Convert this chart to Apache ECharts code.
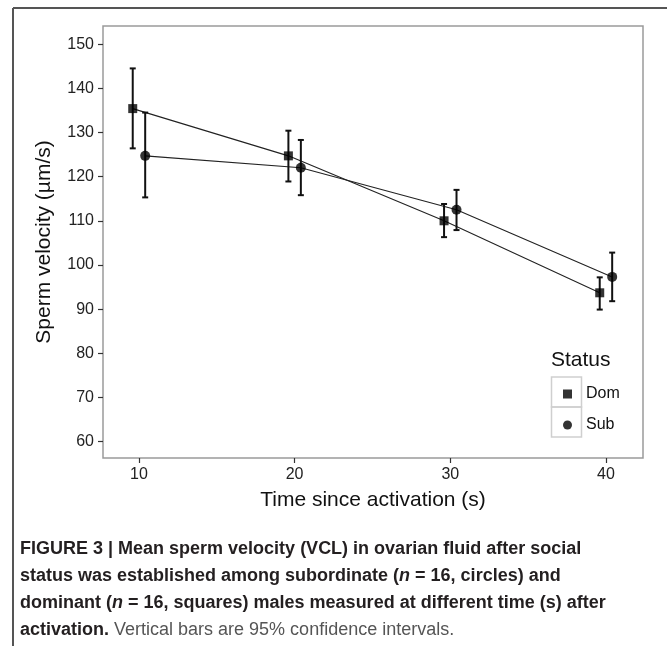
<!DOCTYPE html>
<html>
<head>
<meta charset="utf-8">
<script src="https://cdn.jsdelivr.net/npm/echarts@6/dist/echarts.min.js"></script>
<style>
html,body{margin:0;padding:0;background:#fff;}
#chart{width:667px;height:646px;}
</style>
</head>
<body>
<div id="chart"></div>
<script>
// ---- data ----
const times = [10, 20, 30, 40];
const groups = ['Dom', 'Sub'];
const domMean  = [135.4, 124.7, 110.0, 93.7];
const domLower = [126.4, 118.9, 106.3, 89.9];
const domUpper = [144.5, 130.4, 113.8, 97.2];
const subMean  = [124.7, 122.0, 112.5, 97.3];
const subLower = [115.3, 115.8, 107.9, 91.8];
const subUpper = [134.5, 128.3, 117.0, 102.8];
const yTicks = [60, 70, 80, 90, 100, 110, 120, 130, 140, 150];
const xTicks = [10, 20, 30, 40];

const DODGE = 0.4;
function pts(mean, off) { return times.map((t, i) => [t + off, mean[i]]); }
function errs(lo, hi, off) { return times.map((t, i) => [t + off, lo[i], hi[i]]); }

const domPts = pts(domMean, -DODGE), subPts = pts(subMean, DODGE);
const domErr = errs(domLower, domUpper, -DODGE), subErr = errs(subLower, subUpper, DODGE);

function errRender(params, api) {
  const x = api.value(0), lo = api.value(1), hi = api.value(2);
  const pLo = api.coord([x, lo]), pHi = api.coord([x, hi]);
  const w = 3;
  const style = { stroke: '#111', lineWidth: 2, fill: null };
  return {
    type: 'group',
    children: [
      { type: 'line', shape: { x1: pLo[0], y1: pLo[1], x2: pHi[0], y2: pHi[1] }, style },
      { type: 'line', shape: { x1: pLo[0] - w, y1: pLo[1], x2: pLo[0] + w, y2: pLo[1] }, style },
      { type: 'line', shape: { x1: pHi[0] - w, y1: pHi[1], x2: pHi[0] + w, y2: pHi[1] }, style }
    ]
  };
}

const FONT = '"Liberation Sans", Arial, sans-serif';
const NARROW = '"Liberation Sans Narrow", "Liberation Sans", Arial, sans-serif';

const chart = echarts.init(document.getElementById('chart'), null, { renderer: 'canvas' });
chart.setOption({
  animation: false,
  backgroundColor: '#fff',
  grid: { left: 103, top: 26, width: 540, height: 432, show: true, borderColor: '#9a9a9a', borderWidth: 1.5, backgroundColor: '#fff' },
  xAxis: {
    type: 'value', min: 7.69, max: 42.38,
    name: 'Time since activation (s)', nameLocation: 'middle', nameGap: 32,
    nameTextStyle: { fontFamily: FONT, fontSize: 21, color: '#111' },
    axisLine: { show: false },
    axisTick: { show: true, length: 5, customValues: xTicks, lineStyle: { color: '#333', width: 1.2 } },
    axisLabel: { customValues: xTicks, margin: 9, fontFamily: FONT, fontSize: 16, color: '#222' },
    splitLine: { show: false }
  },
  yAxis: {
    type: 'value', min: 56.3, max: 154.1,
    name: 'Sperm velocity (\u00b5m/s)', nameLocation: 'middle', nameGap: 48,
    nameTextStyle: { fontFamily: FONT, fontSize: 21, color: '#111' },
    axisLine: { show: false },
    axisTick: { show: true, length: 5, customValues: yTicks, lineStyle: { color: '#333', width: 1.2 } },
    axisLabel: { customValues: yTicks, margin: 9, fontFamily: FONT, fontSize: 16, color: '#222' },
    splitLine: { show: false }
  },
  legend: {
    orient: 'vertical', left: 558, top: 380,
    itemWidth: 9, itemHeight: 9, itemGap: 13,
    data: [{ name: 'Dom', icon: 'rect' }, { name: 'Sub', icon: 'circle' }],
    textStyle: { fontFamily: FONT, fontSize: 16, color: '#111', padding: [0, 0, 0, 9], lineHeight: 18 },
    selectedMode: false
  },
  graphic: [
    { type: 'line', shape: { x1: 13, y1: 8, x2: 667, y2: 8 }, style: { stroke: '#555', lineWidth: 2 } },
    { type: 'line', shape: { x1: 13, y1: 8, x2: 13, y2: 646 }, style: { stroke: '#555', lineWidth: 2 } },
    { type: 'text', left: 551, top: 350, style: { text: 'Status', font: '21px ' + FONT, fill: '#111' } },
    { type: 'rect', shape: { x: 551.5, y: 377, width: 30, height: 30 }, style: { fill: null, stroke: '#cfcfcf', lineWidth: 1.5 } },
    { type: 'rect', shape: { x: 551.5, y: 407, width: 30, height: 30 }, style: { fill: null, stroke: '#cfcfcf', lineWidth: 1.5 } },
    {
      type: 'text', left: 20, top: 540,
      style: {
        text: '{b|FIGURE 3 | Mean sperm velocity (VCL) in ovarian fluid after social}\n' +
              '{b|status was established among subordinate (}{bi|n}{b| = 16, circles) and}\n' +
              '{b|dominant (}{bi|n}{b| = 16, squares) males measured at different time (s) after}\n' +
              '{b|activation.}{r| Vertical bars are 95% confidence intervals.}',
        rich: {
          b: { fontFamily: NARROW, fontWeight: 'bold', fontSize: 18, lineHeight: 27, fill: '#231f20' },
          bi: { fontFamily: NARROW, fontWeight: 'bold', fontStyle: 'italic', fontSize: 18, lineHeight: 27, fill: '#231f20' },
          r: { fontFamily: NARROW, fontSize: 18, lineHeight: 27, fill: '#555' }
        }
      }
    }
  ],
  series: [
    { name: 'Dom line', type: 'line', data: domPts, symbol: 'none', lineStyle: { color: '#222', width: 1.1 }, z: 2, silent: true },
    { name: 'Sub line', type: 'line', data: subPts, symbol: 'none', lineStyle: { color: '#222', width: 1.1 }, z: 2, silent: true },
    { name: 'Dom err', type: 'custom', data: domErr, renderItem: errRender, z: 3, silent: true },
    { name: 'Sub err', type: 'custom', data: subErr, renderItem: errRender, z: 3, silent: true },
    { name: 'Dom', type: 'scatter', data: domPts, symbol: 'rect', symbolSize: 9, itemStyle: { color: '#000' }, z: 4 },
    { name: 'Sub', type: 'scatter', data: subPts, symbol: 'circle', symbolSize: 10, itemStyle: { color: '#000' }, z: 4 }
  ]
});
</script>
</body>
</html>
